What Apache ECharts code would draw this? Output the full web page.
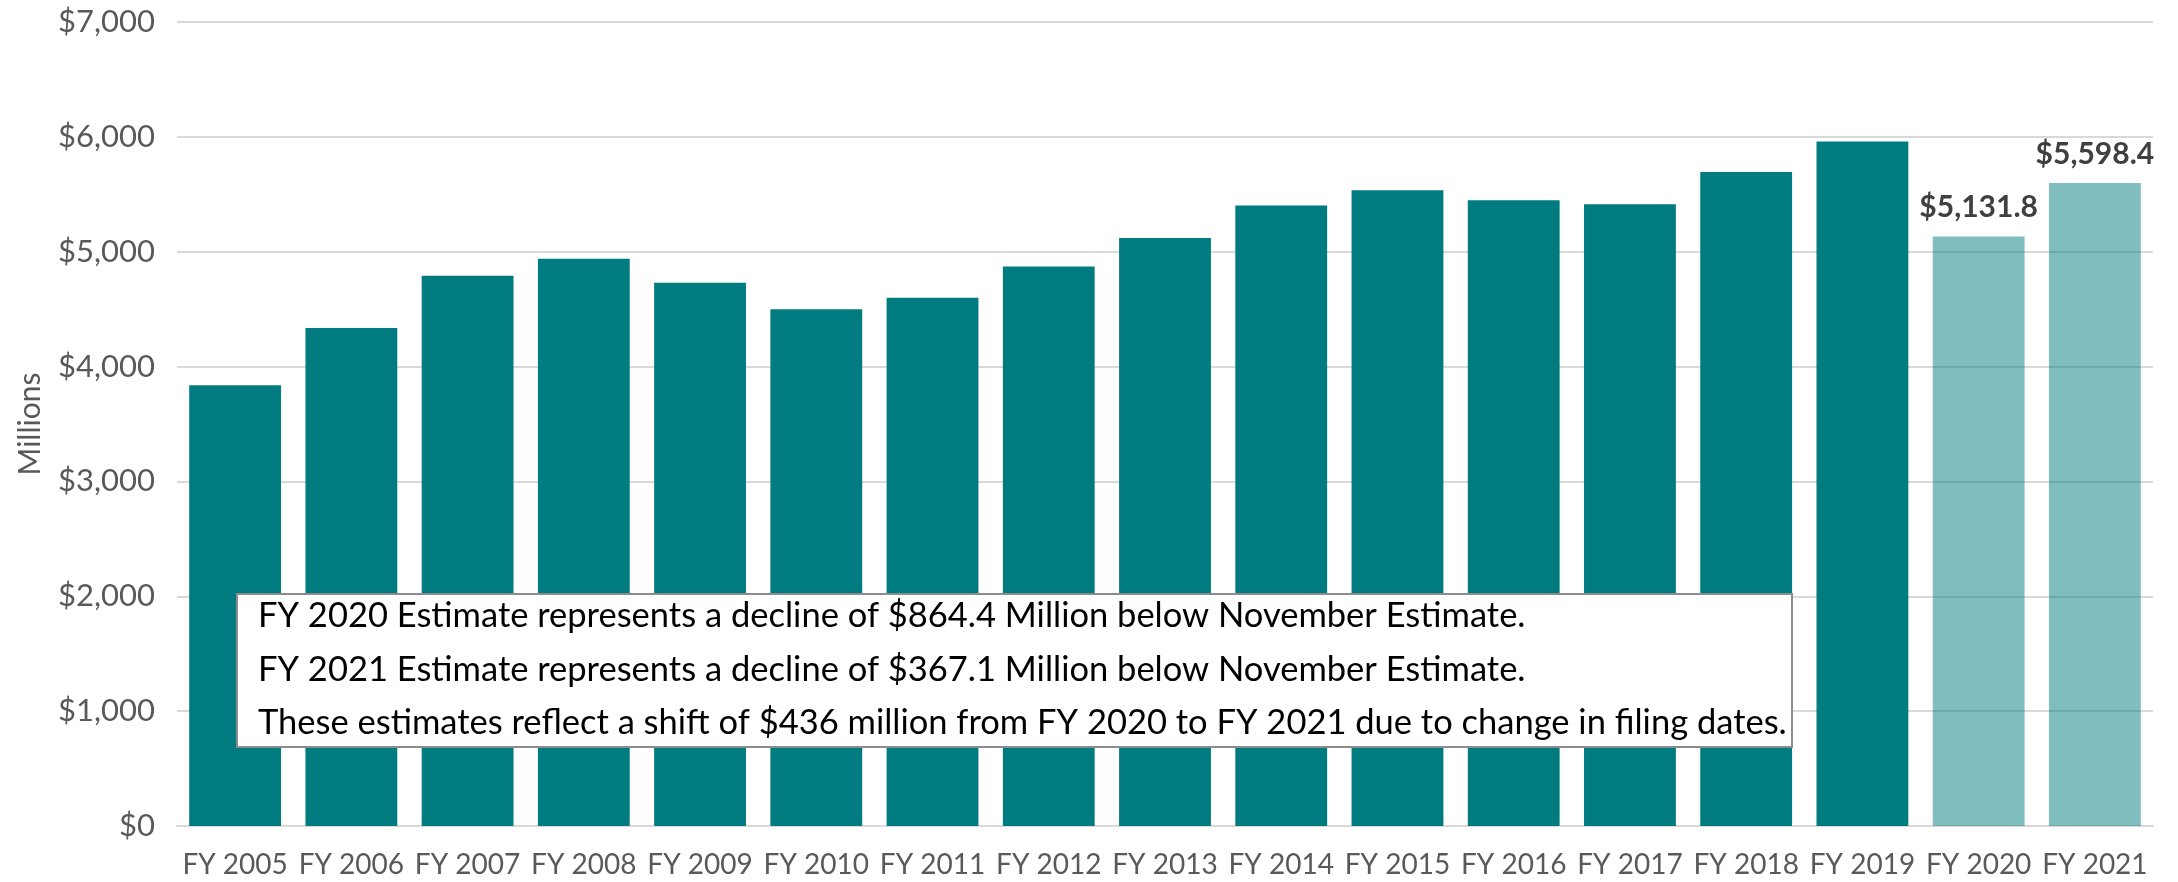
<!DOCTYPE html>
<html>
<head>
<meta charset="utf-8">
<script src="https://cdn.jsdelivr.net/npm/echarts@6/dist/echarts.min.js"></script>
<style>
  html, body { margin: 0; padding: 0; background: #fff; }
  #chart { width: 2178px; height: 882px; }
</style>
</head>
<body>
<div id="chart"></div>
<script>
const categories = ['FY 2005', 'FY 2006', 'FY 2007', 'FY 2008', 'FY 2009', 'FY 2010', 'FY 2011', 'FY 2012', 'FY 2013',
  'FY 2014', 'FY 2015', 'FY 2016', 'FY 2017', 'FY 2018', 'FY 2019', 'FY 2020', 'FY 2021']
const revenue = [3838, 4335, 4791, 4939, 4729, 4500, 4599, 4872, 5119, 5402, 5535, 5448, 5413, 5694, 5959, 5131.8, 5598.4]
const estimateYears = ['FY 2020', 'FY 2021']
const yTicks = { min: 0, max: 7000, interval: 1000 }
const noteLines = [
  'FY 2020 Estimate represents a decline of $864.4 Million below November Estimate.',
  'FY 2021 Estimate represents a decline of $367.1 Million below November Estimate.',
  'These estimates reflect a shift of $436 million from FY 2020 to FY 2021 due to change in filing dates.',
]

const FONT = 'Lato, "Noto Sans", sans-serif'
const TEAL = '#007b80'
const TEAL_LIGHT = 'rgba(0,123,128,0.5)'

const chart = echarts.init(document.getElementById('chart'))

// 估算年份用浅色并显示数值标签
const barData = revenue.map((v, i) => {
  const isEst = estimateYears.includes(categories[i])
  return {
    value: v,
    itemStyle: { color: isEst ? TEAL_LIGHT : TEAL },
    label: isEst ? {
      show: true,
      position: 'top',
      distance: 14,
      formatter: (p) => '$' + p.value.toLocaleString('en-US', { minimumFractionDigits: 1 }),
      color: '#404040',
      fontWeight: 'bold',
      fontSize: 30,
      fontFamily: FONT,
    } : { show: false },
  }
})

chart.setOption({
  animation: false,
  grid: { left: 177, right: 25, top: 22, bottom: 56 },
  xAxis: {
    type: 'category',
    data: categories,
    axisLine: { lineStyle: { color: '#d9d9d9', width: 2 } },
    axisTick: { show: false },
    axisLabel: { interval: 0, color: '#595959', fontSize: 28, fontFamily: FONT, margin: 25 },
  },
  yAxis: {
    type: 'value',
    min: yTicks.min,
    max: yTicks.max,
    interval: yTicks.interval,
    name: 'Millions',
    nameLocation: 'middle',
    nameRotate: 90,
    nameGap: 132,
    nameTextStyle: { color: '#595959', fontSize: 30, fontFamily: FONT },
    axisLabel: {
      color: '#595959', fontSize: 31, fontFamily: FONT, margin: 22,
      formatter: (v) => '$' + v.toLocaleString('en-US'),
    },
    splitLine: { lineStyle: { color: '#d9d9d9', width: 2 } },
  },
  series: [{
    type: 'bar',
    data: barData,
    barCategoryGap: '21%',
  }],
  graphic: [
    {
      type: 'rect',
      z: 100,
      shape: { x: 237, y: 594, width: 1555, height: 153 },
      style: { fill: '#fff', stroke: '#8c8c8c', lineWidth: 2 },
    },
    ...noteLines.map((t, i) => ({
      type: 'text',
      z: 101,
      x: 258,
      y: 616 + i * 53.5,
      style: { text: t, fill: '#000', fontSize: 34.5, fontFamily: FONT, verticalAlign: 'middle' },
    })),
  ],
})
</script>
</body>
</html>
